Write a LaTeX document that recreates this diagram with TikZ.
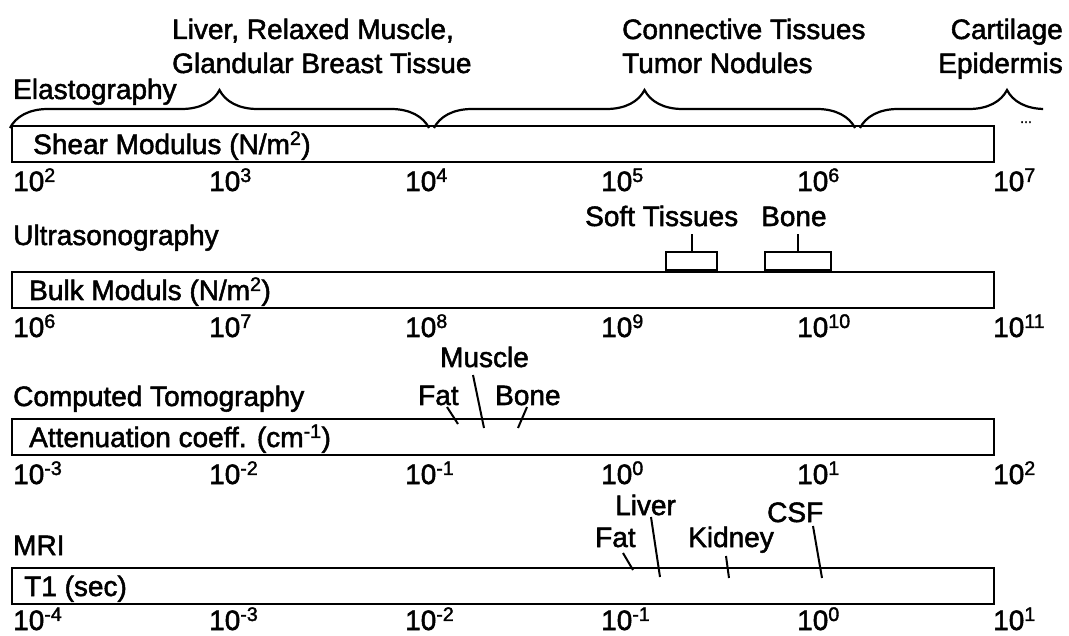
\documentclass[tikz,border=0pt]{standalone}
\usepackage{fontspec}
\setmainfont{Liberation Sans}[FakeBold=1.8]
\usepackage{tikz}
\usetikzlibrary{decorations.pathreplacing}
\definecolor{scaleInk}{RGB}{0,0,0}
\tikzset{
  modbar/.style={rectangle, draw=scaleInk, line width=2.2pt, fill=white,
    minimum width=982pt, minimum height=36pt, inner sep=0pt, anchor=north west},
  rangebox/.style={rectangle, draw=scaleInk, line width=2pt,
    minimum height=18pt, inner sep=0pt, anchor=south west},
  basetext/.style={anchor=base west, inner sep=0pt, text=scaleInk,
    font=\fontsize{28}{34}\selectfont},
  modtitle/.style={basetext},
  unitlabel/.style={basetext},
  ticklabel/.style={basetext},
  tissuelabel/.style={basetext, align=left},
  pointer/.style={draw=scaleInk, line width=2pt},
  rangebrace/.style={draw=scaleInk, line width=2.2pt, decorate,
    decoration={brace, amplitude=38pt}},
}

\begin{document}
\begin{tikzpicture}[x=1pt, y=-1pt]
  \useasboundingbox (0,0) rectangle (1069,636);

  % Elastography
  \node[modtitle] (etitle) at (13,99) {Elastography};
  \node[modbar] (ebar) at (11,125) {};
  \node[unitlabel] (eunit) at (33,154) {Shear Modulus (N/m\textsuperscript{2})};
  \foreach \k/\p in {0/2,1/3,2/4,3/5,4/6,5/7}
    \node[ticklabel] (etick\k) at (13+196*\k,191) {10\textsuperscript{\p}};
  \node[tissuelabel] (eliver) at (172,73) {Liver, Relaxed Muscle,\\Glandular Breast Tissue};
  \node[tissuelabel] (econn) at (622,73) {Connective Tissues\\Tumor Nodules};
  \node[tissuelabel, anchor=base east, align=right] (ecart) at (1063,73) {Cartilage\\Epidermis};
  \node[basetext, font=\fontsize{14}{14}\selectfont] (emore) at (1020,123) {...};
  \draw[rangebrace] (10,128) -- (429,128);
  \draw[rangebrace] (434,128) -- (855,128);
  \begin{scope}
    \clip (850,60) rectangle (1043,140);
    \draw[rangebrace] (860,128) -- (1154,128);
  \end{scope}

  % Ultrasonography
  \node[modtitle] (utitle) at (13,245) {Ultrasonography};
  \node[modbar] (ubar) at (11,271) {};
  \node[unitlabel] (uunit) at (29,300) {Bulk Moduls (N/m\textsuperscript{2})};
  \foreach \k/\p in {0/6,1/7,2/8,3/9,4/10,5/11}
    \node[ticklabel] (utick\k) at (13+196*\k,337) {10\textsuperscript{\p}};
  \node[tissuelabel] (usoft) at (585,226) {Soft Tissues};
  \node[tissuelabel] (ubone) at (761,226) {Bone};
  \node[rangebox, minimum width=51pt] (usoftbox) at (665,271) {};
  \node[rangebox, minimum width=66pt] (ubonebox) at (764,271) {};
  \draw[pointer] (usoftbox.north) -- ++(0,-17);
  \draw[pointer] (ubonebox.north) -- ++(0,-17);

  % Computed Tomography
  \node[modtitle] (ctitle) at (13,406) {Computed Tomography};
  \node[modbar] (cbar) at (11,418) {};
  \node[unitlabel] (cunit) at (29,447) {Attenuation coeff. (cm\textsuperscript{-1})};
  \foreach \k/\p in {0/-3,1/-2,2/-1,3/0,4/1,5/2}
    \node[ticklabel] (ctick\k) at (13+196*\k,484) {10\textsuperscript{\p}};
  \node[tissuelabel] (cmuscle) at (440,367) {Muscle};
  \node[tissuelabel] (cfat) at (418,405) {Fat};
  \node[tissuelabel] (cbone) at (495,405) {Bone};
  \draw[pointer] ([shift={(29,2)}]cfat.base west) -- ++(11,17);
  \draw[pointer] ([shift={(33,8)}]cmuscle.base west) -- ++(11,53);
  \draw[pointer] ([shift={(32,2)}]cbone.base west) -- ++(-9,21);

  % MRI
  \node[modtitle] (mtitle) at (13,555) {MRI};
  \node[modbar] (mbar) at (11,567) {};
  \node[unitlabel] (munit) at (24,596) {T1 (sec)};
  \foreach \k/\p in {0/-4,1/-3,2/-2,3/-1,4/0,5/1}
    \node[ticklabel] (mtick\k) at (13+196*\k,630) {10\textsuperscript{\p}};
  \node[tissuelabel] (mliver) at (615,515) {Liver};
  \node[tissuelabel] (mfat) at (595,547) {Fat};
  \node[tissuelabel] (mkidney) at (688,547) {Kidney};
  \node[tissuelabel] (mcsf) at (767,522) {CSF};
  \draw[pointer] ([shift={(28,6)}]mfat.base west) -- ++(10,17);
  \draw[pointer] ([shift={(36,2)}]mliver.base west) -- ++(9,60);
  \draw[pointer] ([shift={(38,9)}]mkidney.base west) -- ++(3,22);
  \draw[pointer] ([shift={(46,4)}]mcsf.base west) -- ++(9,52);
\end{tikzpicture}
\end{document}
